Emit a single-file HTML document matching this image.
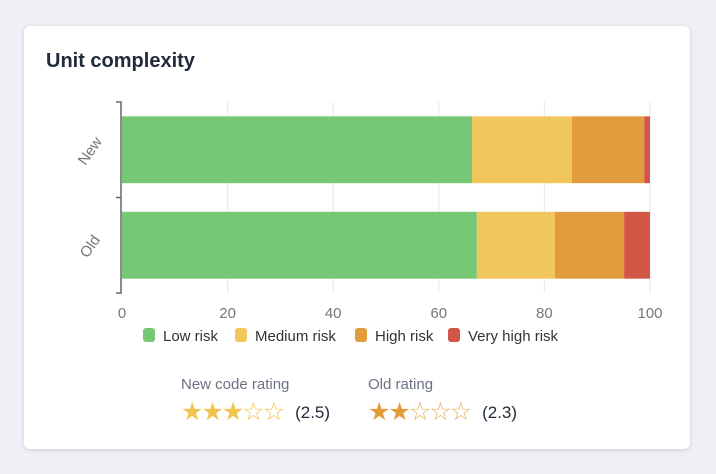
<!DOCTYPE html>
<html><head><meta charset="utf-8"><style>
body{margin:0;width:716px;height:474px;background:#eef0f5;font-family:"Liberation Sans","DejaVu Sans",sans-serif;overflow:hidden}
.card{position:absolute;left:24px;top:26px;width:666px;height:423px;background:#fff;border-radius:6px;box-shadow:0 1px 4px rgba(0,0,0,.15)}
.title{position:absolute;left:22px;top:24px;font-size:20px;font-weight:bold;color:#222b3a}
.rating{position:absolute;top:376px;color:#6b7280;font-size:15px;line-height:18px}
.stars{font-size:25px;line-height:30px;letter-spacing:-2px;margin-top:3px;color:#222b3a;white-space:nowrap}
.stars span.v{font-size:17px;margin-left:12px;letter-spacing:0;vertical-align:2px}
</style></head><body>
<div class="card">
<div class="title">Unit complexity</div>
</div>
<svg id="chart" width="716" height="474" style="position:absolute;left:0;top:0"></svg>
<div class="rating" style="left:181px">New code rating
<div class="stars"><span style="color:#f0c44f">★★★</span><span style="color:#f0c44f">☆☆</span><span class="v">(2.5)</span></div></div>
<div class="rating" style="left:368px">Old rating
<div class="stars"><span style="color:#e39c3a">★★</span><span style="color:#e8b060">☆☆☆</span><span class="v">(2.3)</span></div></div>
<script>
const categories=["New","Old"];
const seriesNames=["Low risk","Medium risk","High risk","Very high risk"];
const lowRisk=[66.3,67.2];
const mediumRisk=[18.9,14.8];
const highRisk=[13.7,13.1];
const veryHighRisk=[1.1,4.9];
const xTicks=[0,20,40,60,80,100];
const colors=["#76c776","#f1c65b","#e39c3d","#d35746"];
const svg=document.getElementById('chart');
const NS='http://www.w3.org/2000/svg';
const X0=122,X1=650,Y0=102,Y1=293;
const x=v=>X0+(X1-X0)*v/100;
const band=(Y1-Y0)/categories.length;
const yc=i=>Y0+band*(i+0.5);
function mk(t,a){const e=document.createElementNS(NS,t);for(const k in a)e.setAttribute(k,a[k]);svg.appendChild(e);return e;}
xTicks.forEach(t=>{if(t>0){const g=mk('line',{x1:x(t),x2:x(t),y1:Y0,y2:Y1,stroke:'#e3e7f1'});}
const l=mk('text',{x:x(t),y:318,'text-anchor':'middle','font-size':15,fill:'#777'});l.textContent=t;});
const series=[lowRisk,mediumRisk,highRisk,veryHighRisk];
categories.forEach((c,i)=>{let acc=0;const h=band*0.7;
series.forEach((s,k)=>{const r=mk('rect',{x:x(acc),y:yc(i)-h/2,width:x(acc+s[i])-x(acc),height:h,fill:colors[k]});acc+=s[i];});
const t=mk('text',{x:0,y:0,'text-anchor':'middle','font-size':15,fill:'#777',transform:`translate(94,${yc(i)+4}) rotate(-55)`});t.textContent=c;});
const ax=mk('path',{d:`M116 ${Y0}H121V${Y1}H116M116 ${Y0+band}H121`,stroke:'#666',fill:'none','stroke-width':1.5});

const lx=[143,235,355,448];
seriesNames.forEach((n,k)=>{const r=mk('rect',{x:lx[k],y:328,width:12,height:14,rx:3,fill:colors[k]});
const t=mk('text',{x:lx[k]+20,y:341,'font-size':15,fill:'#333'});t.textContent=n;});
</script>
</body></html>
